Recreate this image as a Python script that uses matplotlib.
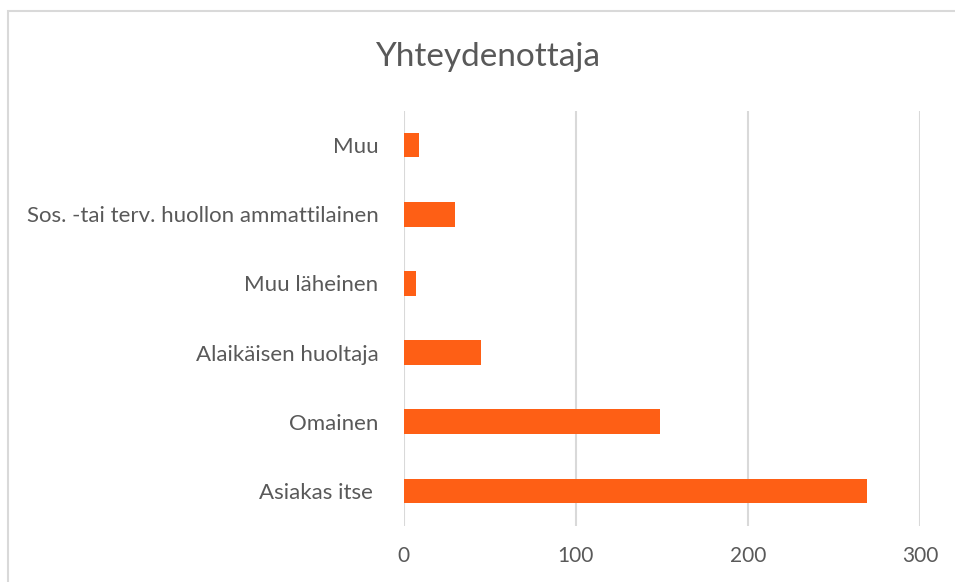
import matplotlib
matplotlib.use('Agg')
import matplotlib.pyplot as plt
from matplotlib.patches import Rectangle

# Datos (de abajo hacia arriba)
luokat = ['Asiakas itse ', 'Omainen', 'Alaikäisen huoltaja', 'Muu läheinen',
          'Sos. -tai terv. huollon ammattilainen', 'Muu']
arvot = [269, 149, 45, 7, 30, 9]
xticks = [0, 100, 200, 300]

plt.rcParams['font.family'] = ['Lato', 'DejaVu Sans']
harmaa = '#595959'

fig = plt.figure(figsize=(9.55, 5.82), dpi=100)
W, H = 955, 582

# Marco del gráfico
fig.patches.append(Rectangle((8 / W, -0.1), 1.0, (H - 11) / H + 0.1,
                             transform=fig.transFigure, fill=False,
                             edgecolor='#d9d9d9', linewidth=1.5))

ax = fig.add_axes([403.5 / W, (H - 525.5) / H, (920 - 403.5) / W, (525.5 - 110.5) / H])
ax.barh(range(len(luokat)), arvot, height=0.355, color='#FE5F15', zorder=3)
ax.set_xlim(0, 300)
ax.set_ylim(-0.5, len(luokat) - 0.5)
ax.set_xticks(xticks)
ax.set_yticks(range(len(luokat)))
ax.set_yticklabels(luokat)
ax.grid(True, axis='x', color='#d9d9d9', linewidth=1.5, zorder=0)
for s in ax.spines.values():
    s.set_visible(False)
ax.tick_params(axis='both', length=0, colors=harmaa)
ax.tick_params(axis='y', pad=18, labelsize=16)
ax.tick_params(axis='x', pad=15, labelsize=15)

fig.text(488 / W, 1 - 57 / H, 'Yhteydenottaja', ha='center', va='center',
         fontsize=24, color=harmaa)

plt.savefig('out.png', dpi=100)
